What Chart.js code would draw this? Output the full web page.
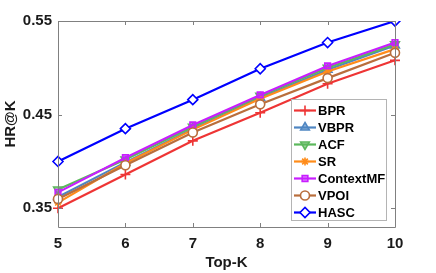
<!DOCTYPE html>
<html>
<head>
<meta charset="utf-8">
<script src="https://cdn.jsdelivr.net/npm/chart.js@4/dist/chart.umd.min.js"></script>
<style>
html,body{margin:0;padding:0;background:#fff;}
#wrap{width:436px;height:273px;}
</style>
</head>
<body>
<div id="wrap"><canvas id="c" width="436" height="273"></canvas></div>
<script>
const topK = ['5', '6', '7', '8', '9', '10'];
const yTicks = [0.35, 0.45, 0.55];
const seriesNames = ['BPR', 'VBPR', 'ACF', 'SR', 'ContextMF', 'VPOI', 'HASC'];
const bpr       = [0.350, 0.386, 0.422, 0.452, 0.483, 0.508];
const vbpr      = [0.362, 0.399, 0.435, 0.468, 0.498, 0.524];
const acf       = [0.370, 0.402, 0.437, 0.470, 0.500, 0.525];
const sr        = [0.356, 0.398, 0.434, 0.467, 0.496, 0.520];
const contextMF = [0.367, 0.404, 0.439, 0.471, 0.502, 0.527];
const vpoi      = [0.360, 0.396, 0.431, 0.461, 0.489, 0.516];
const hasc      = [0.400, 0.435, 0.466, 0.499, 0.527, 0.550];

const FONT = '"Liberation Sans", Arial, Helvetica, sans-serif';
const styles = [
  {c:'#ee3535', bg:'#ee3535', ps:'cross', r:5, rot:0},
  {c:'#4f86c2', bg:'rgba(79,134,194,0.55)', ps:'triangle', r:5, rot:0},
  {c:'#5cb85c', bg:'rgba(92,184,92,0.55)', ps:'triangle', r:5, rot:180},
  {c:'#ff8c1a', bg:'#ff8c1a', ps:'star', r:4, rot:0},
  {c:'#c81eff', bg:'rgba(200,30,255,0.45)', ps:'rect', r:4, rot:0},
  {c:'#b96e3c', bg:'#ffffff', ps:'circle', r:4.5, rot:0},
  {c:'#0000ff', bg:'#ffffff', ps:'rectRot', r:5, rot:0}
];
const values = [bpr, vbpr, acf, sr, contextMF, vpoi, hasc];

const datasets = seriesNames.map((n, i) => ({
  label: n,
  data: values[i],
  borderColor: styles[i].c,
  backgroundColor: styles[i].bg,
  pointBackgroundColor: styles[i].bg,
  pointBorderColor: styles[i].c,
  pointStyle: styles[i].ps,
  pointRadius: styles[i].r,
  pointRotation: styles[i].rot,
  pointBorderWidth: 1.6,
  borderWidth: 2.2,
  tension: 0,
  fill: false,
  order: seriesNames.length - i
}));

const boxPlugin = {
  id: 'boxPlugin',
  afterDatasetsDraw(chart) {
    const ctx = chart.ctx, a = chart.chartArea;
    const xs = chart.scales.x, ys = chart.scales.y;
    ctx.save();
    ctx.strokeStyle = '#808080';
    ctx.lineWidth = 1;
    ctx.beginPath();
    ctx.rect(Math.round(a.left) + 0.5, Math.round(a.top) + 0.5, Math.round(a.right - a.left), Math.round(a.bottom - a.top));
    ctx.stroke();
    ctx.beginPath();
    for (let i = 0; i < topK.length; i++) {
      const x = Math.round(xs.getPixelForValue(i)) + 0.5;
      ctx.moveTo(x, a.bottom); ctx.lineTo(x, a.bottom - 4);
      ctx.moveTo(x, a.top); ctx.lineTo(x, a.top + 4);
    }
    for (const v of yTicks) {
      const y = Math.round(ys.getPixelForValue(v)) + 0.5;
      ctx.moveTo(a.left, y); ctx.lineTo(a.left + 4, y);
      ctx.moveTo(a.right, y); ctx.lineTo(a.right - 4, y);
    }
    ctx.stroke();
    ctx.restore();
  },
  afterDraw(chart) {
    const ctx = chart.ctx;
    const lx = 291.5, ly = 99.5, lw = 95, lh = 121;
    ctx.save();
    ctx.fillStyle = '#ffffff';
    ctx.fillRect(lx, ly, lw, lh);
    ctx.strokeStyle = '#b4b4b4';
    ctx.lineWidth = 1;
    ctx.strokeRect(lx, ly, lw, lh);
    chart.data.datasets.forEach((d, i) => {
      const y = 110.5 + i * 17;
      ctx.strokeStyle = d.borderColor;
      ctx.lineWidth = 2.2;
      ctx.beginPath();
      ctx.moveTo(294, y); ctx.lineTo(316, y);
      ctx.stroke();
      ctx.fillStyle = d.pointBackgroundColor;
      ctx.strokeStyle = d.pointBorderColor;
      ctx.lineWidth = 1.6;
      Chart.helpers.drawPoint(ctx, {pointStyle: d.pointStyle, radius: d.pointRadius, rotation: d.pointRotation, borderWidth: 1.6}, 305, y);
      ctx.fillStyle = '#000';
      ctx.font = 'bold 13px ' + FONT;
      ctx.textAlign = 'left';
      ctx.textBaseline = 'middle';
      ctx.fillText(d.label, 318, y + 0.5);
    });
    ctx.restore();
  }
};

new Chart(document.getElementById('c'), {
  type: 'line',
  data: { labels: topK, datasets },
  options: {
    responsive: false,
    animation: false,
    devicePixelRatio: 1,
    layout: { padding: { left: 0, right: 41, top: 21, bottom: 0 } },
    plugins: { legend: { display: false }, tooltip: { enabled: false } },
    scales: {
      x: {
        type: 'category',
        offset: false,
        grid: { display: false, drawTicks: false },
        border: { display: false },
        ticks: { color: '#1a1a1a', padding: 8, font: { family: FONT, size: 15, weight: 'bold' }, maxRotation: 0 },
        title: { display: true, text: 'Top-K', color: '#1a1a1a', font: { family: FONT, size: 15, weight: 'bold' }, padding: { top: 0, bottom: 1 } },
        afterFit(s) { s.height = 46; }
      },
      y: {
        min: 0.33, max: 0.55,
        grid: { display: false, drawTicks: false },
        border: { display: false },
        afterBuildTicks(s) { s.ticks = yTicks.map(v => ({ value: v })); },
        ticks: { color: '#1a1a1a', padding: 6, font: { family: FONT, size: 15, weight: 'bold' }, callback: v => v.toFixed(2) },
        title: { display: true, text: 'HR@K', color: '#1a1a1a', font: { family: FONT, size: 15, weight: 'bold' }, padding: { top: 2, bottom: 0 } },
        afterFit(s) { s.width = 58; }
      }
    }
  },
  plugins: [boxPlugin]
});
</script>
</body>
</html>
